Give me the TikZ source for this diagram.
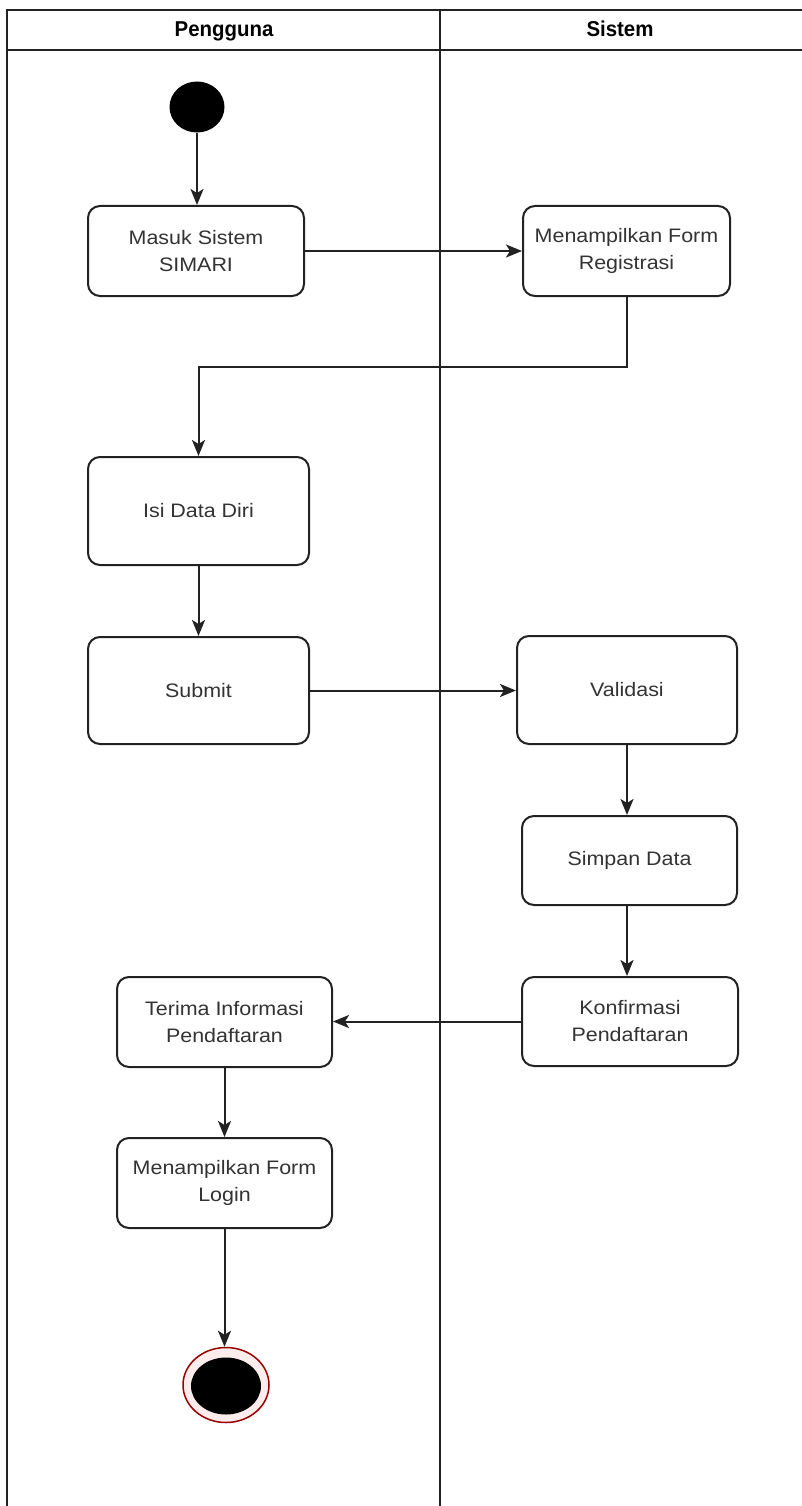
\documentclass[tikz,border=0pt]{standalone}
\usepackage{fontspec}
\usetikzlibrary{arrows.meta,shapes.geometric}
\newfontfamily\bodyf{Liberation Sans}[FakeStretch=1.1]
\newfontfamily\headf{Liberation Sans}[FakeStretch=0.95]
\definecolor{lc}{HTML}{222222}
\definecolor{tc}{HTML}{333333}
\definecolor{ring}{HTML}{990000}
\definecolor{pinkfill}{HTML}{FDECEC}
\tikzset{
  act/.style={draw=lc, line width=2pt, rounded corners=12pt, align=center,
    inner sep=0pt, text=tc, font=\bodyf\fontsize{19.5}{27}\selectfont},
  arr/.style={draw=lc, line width=2pt, -{Stealth[length=16pt,width=13pt,inset=4pt]}},
  lane/.style={draw=lc, line width=2pt},
  hdr/.style={font=\headf\bfseries\fontsize{21.5}{24}\selectfont, text=black, anchor=base, inner sep=0pt}
}
\begin{document}
\begin{tikzpicture}[x=1pt,y=-1pt]
\useasboundingbox (0,0) rectangle (802,1506);
\fill[white] (0,0) rectangle (802,1506);
% swimlanes
\draw[lane] (7,1506) -- (7,10) -- (802,10);
\draw[lane] (7,50) -- (802,50);
\draw[lane] (440,10) -- (440,1506);
\node[hdr] (h1) at (224,37) {Pengguna};
\node[hdr] (h2) at (620,37) {Sistem};
% start
\node[ellipse, fill=black, minimum width=55pt, minimum height=51pt, inner sep=0pt] (s) at (197,107) {};
% activities
\node[act, minimum width=216pt, minimum height=90pt] (b1) at (196,251) {Masuk Sistem\\SIMARI};
\node[act, minimum width=207pt, minimum height=90pt] (b2) at (626.5,251) {Menampilkan Form\\Registrasi};
\node[act, minimum width=221pt, minimum height=108pt] (b3) at (198.5,511) {Isi Data Diri};
\node[act, minimum width=221pt, minimum height=107pt] (b4) at (198.5,690.5) {Submit};
\node[act, minimum width=220pt, minimum height=108pt] (b5) at (627,690) {Validasi};
\node[act, minimum width=215pt, minimum height=89pt] (b6) at (629.5,860.5) {Simpan Data};
\node[act, minimum width=216pt, minimum height=89pt] (b7) at (630,1021.5) {Konfirmasi\\Pendaftaran};
\node[act, minimum width=215pt, minimum height=90pt] (b8) at (224.5,1022) {Terima Informasi\\Pendaftaran};
\node[act, minimum width=215pt, minimum height=90pt] (b9) at (224.5,1183) {Menampilkan Form\\Login};
% end
\node[ellipse, draw=ring, line width=1.5pt, fill=pinkfill, minimum width=86pt, minimum height=75pt, inner sep=0pt] (e) at (226,1385) {};
\node[ellipse, fill=black, minimum width=70pt, minimum height=57pt, inner sep=0pt] (ei) at (226,1386) {};
% connectors
\draw[arr] (s.south) -- (s.south |- b1.north);
\draw[arr] (b1.east) -- (b2.west);
\coordinate (c1) at (627,367);
\draw[arr] (b2.south -| c1) -- (c1) -| (b3.north);
\draw[arr] (b3.south) -- (b4.north);
\draw[arr] (b4.east) -- (b4.east -| b5.west);
\draw[arr] (b5.south) -- (b5.south |- b6.north);
\draw[arr] (b6.south -| b5.south) -- (b5.south |- b7.north);
\draw[arr] (b7.west) -- (b7.west -| b8.east);
\draw[arr] (b8.south) -- (b9.north);
\draw[arr] (b9.south) -- (b9.south |- e.north);
\end{tikzpicture}
\end{document}
